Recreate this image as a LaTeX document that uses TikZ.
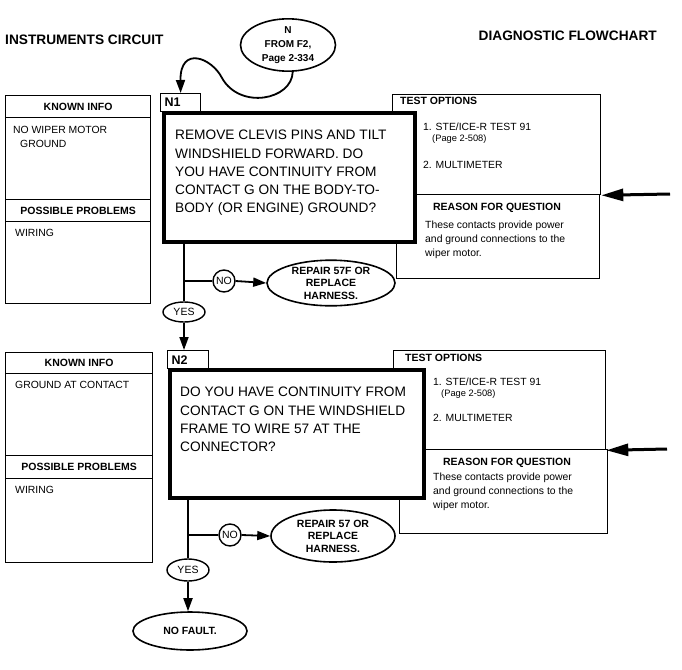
\documentclass[tikz,border=0pt]{standalone}
\usepackage{fontspec}
\setmainfont{Liberation Sans}
\usetikzlibrary{arrows.meta,shapes.geometric}
\begin{document}
\begin{tikzpicture}[x=1pt,y=-1pt,
  thinbox/.style={draw, line width=1.3pt, fill=white, inner sep=0pt, anchor=north west},
  thickbox/.style={draw, line width=4pt, fill=white, inner sep=0pt, anchor=north west},
  hdr/.style={font=\fontsize{10.5}{12}\selectfont\bfseries},
  title/.style={font=\fontsize{13.7}{16}\selectfont\bfseries, inner sep=0pt},
  body/.style={font=\fontsize{10.4}{14}\selectfont, inner sep=0pt, align=left},
  small/.style={font=\fontsize{9.3}{11}\selectfont, inner sep=0pt},
  qtext/.style={font=\fontsize{13.7}{18.3}\selectfont, anchor=north west, inner sep=0pt, align=left},
  oval/.style={draw, ellipse, line width=1.6pt, fill=white, inner sep=0pt, align=center, font=\fontsize{10.5}{12.4}\selectfont\bfseries},
  smalloval/.style={draw, ellipse, line width=1.4pt, fill=white, inner sep=0pt, font=\fontsize{10.5}{12}\selectfont},
  circ/.style={draw, circle, line width=1.4pt, fill=white, minimum size=22, inner sep=0pt, font=\fontsize{10.5}{12}\selectfont},
  tab/.style={thinbox, minimum height=18, inner xsep=4pt, align=left, font=\fontsize{12.5}{14}\selectfont\bfseries},
  conn/.style={line width=1.8pt},
  arr/.style={conn, -{Triangle[length=13pt,width=9pt]}},
  bigarr/.style={line width=3pt, -{Triangle[length=22pt,width=12pt]}}]
\useasboundingbox (0,0) rectangle (682,669);

% titles
\node[title, anchor=west] (t1) at (5,40) {INSTRUMENTS CIRCUIT};
\node[title, anchor=east] (t2) at (657,36) {DIAGNOSTIC FLOWCHART};

% entry oval
\node[oval, minimum width=95, minimum height=50, font=\fontsize{10}{14}\selectfont\bfseries] (f2) at (288,45) {N\\FROM F2,\\Page 2-334};

% ===== N1 =====
\node[thinbox, minimum width=145, minimum height=208] (k1) at (5,95) {};
\node[thinbox, hdr, minimum width=145, minimum height=22] (k1h) at (5,95) {KNOWN INFO};
\node[thinbox, hdr, minimum width=145, minimum height=22] (p1h) at (5,199) {POSSIBLE PROBLEMS};
\node[body, anchor=north west] (k1t) at (13,126) {NO WIPER MOTOR\\\hspace*{7pt}GROUND};
\node[body, anchor=west] (p1t) at (15,233) {WIRING};

\node[thinbox, minimum width=203, minimum height=84] (rq1) at (396,194) {};
\node[thinbox, minimum width=208, minimum height=100] (to1) at (392,94) {};
\node[hdr, inner sep=0pt, anchor=west] (to1h) at (400,101) {TEST OPTIONS};
\node[body, anchor=west] (to1a) at (423,127) {1. STE/ICE-R TEST 91};
\node[small, anchor=west] (to1b) at (432,139) {(Page 2-508)};
\node[body, anchor=west] (to1c) at (423,165) {2. MULTIMETER};
\node[hdr, inner sep=0pt] (rq1h) at (497,208) {REASON FOR QUESTION};
\node[body, anchor=north west, font=\fontsize{10.4}{13.7}\selectfont] (rq1t) at (425,221) {These contacts provide power\\and ground connections to the\\wiper motor.};

\node[tab, text width=32] (n1tab) at (160,93) {N1};
\node[thickbox, minimum width=251, minimum height=129] (n1box) at (162,111) {};
\node[qtext] (q1) at (175,130) {REMOVE CLEVIS PINS AND TILT\\WINDSHIELD FORWARD. DO\\YOU HAVE CONTINUITY FROM\\CONTACT G ON THE BODY-TO-\\BODY (OR ENGINE) GROUND?};

\coordinate (in1) at (670,194);
\draw[bigarr] (in1) -- (to1.south east);

\node[smalloval, minimum width=42, minimum height=20] (yes1) at (184,312) {YES};
\node[circ] (no1) at (224,281) {NO};
\node[oval, minimum width=128, minimum height=44] (rep1) at (331,283) {REPAIR 57F OR\\REPLACE\\HARNESS.};
\coordinate (j1) at (184,281);

\draw[conn] (yes1.north |- n1box.south) -- (yes1.north);
\draw[conn] (j1) -- (no1.west);
\draw[arr] (no1.east) -- (rep1.west);

\draw[arr] (f2.-80) .. controls (292,100) and (240,110) .. (222,78) .. controls (212,58) and (180,45) .. (n1tab.north);

% ===== N2 =====
\node[thinbox, minimum width=147, minimum height=210] (k2) at (5,352) {};
\node[thinbox, hdr, minimum width=147, minimum height=21] (k2h) at (5,352) {KNOWN INFO};
\node[thinbox, hdr, minimum width=147, minimum height=23] (p2h) at (5,455) {POSSIBLE PROBLEMS};
\node[body, anchor=west] (k2t) at (15,385) {GROUND AT CONTACT};
\node[body, anchor=west] (p2t) at (15,490) {WIRING};

\node[thinbox, minimum width=208, minimum height=84] (rq2) at (399,449) {};
\node[thinbox, minimum width=212, minimum height=99] (to2) at (393,350) {};
\node[hdr, inner sep=0pt, anchor=west] (to2h) at (405,358) {TEST OPTIONS};
\node[body, anchor=west] (to2a) at (433,382) {1. STE/ICE-R TEST 91};
\node[small, anchor=west] (to2b) at (441,394) {(Page 2-508)};
\node[body, anchor=west] (to2c) at (433,418) {2. MULTIMETER};
\node[hdr, inner sep=0pt] (rq2h) at (507,463) {REASON FOR QUESTION};
\node[body, anchor=north west, font=\fontsize{10.4}{13.7}\selectfont] (rq2t) at (433,473) {These contacts provide power\\and ground connections to the\\wiper motor.};

\node[tab, text width=33] (n2tab) at (167,350) {N2};
\node[thickbox, minimum width=254, minimum height=128] (n2box) at (168,368) {};
\node[qtext] (q2) at (180,387) {DO YOU HAVE CONTINUITY FROM\\CONTACT G ON THE WINDSHIELD\\FRAME TO WIRE 57 AT THE\\CONNECTOR?};

\coordinate (in2) at (667,449);
\draw[bigarr] (in2) -- (to2.south east);

\draw[arr] (yes1.south) -- (yes1.south |- n2tab.north);

\node[smalloval, minimum width=42, minimum height=22] (yes2) at (188,570) {YES};
\node[circ] (no2) at (230,535) {NO};
\node[oval, minimum width=124, minimum height=52] (rep2) at (333,536) {REPAIR 57 OR\\REPLACE\\HARNESS.};
\node[oval, minimum width=114, minimum height=38] (nf) at (190,631) {NO FAULT.};
\coordinate (j2) at (188,535);

\draw[conn] (yes2.north |- n2box.south) -- (yes2.north);
\draw[conn] (j2) -- (no2.west);
\draw[arr] (no2.east) -- (rep2.west);
\draw[arr] (yes2.south) -- (yes2.south |- nf.north);
\end{tikzpicture}
\end{document}
